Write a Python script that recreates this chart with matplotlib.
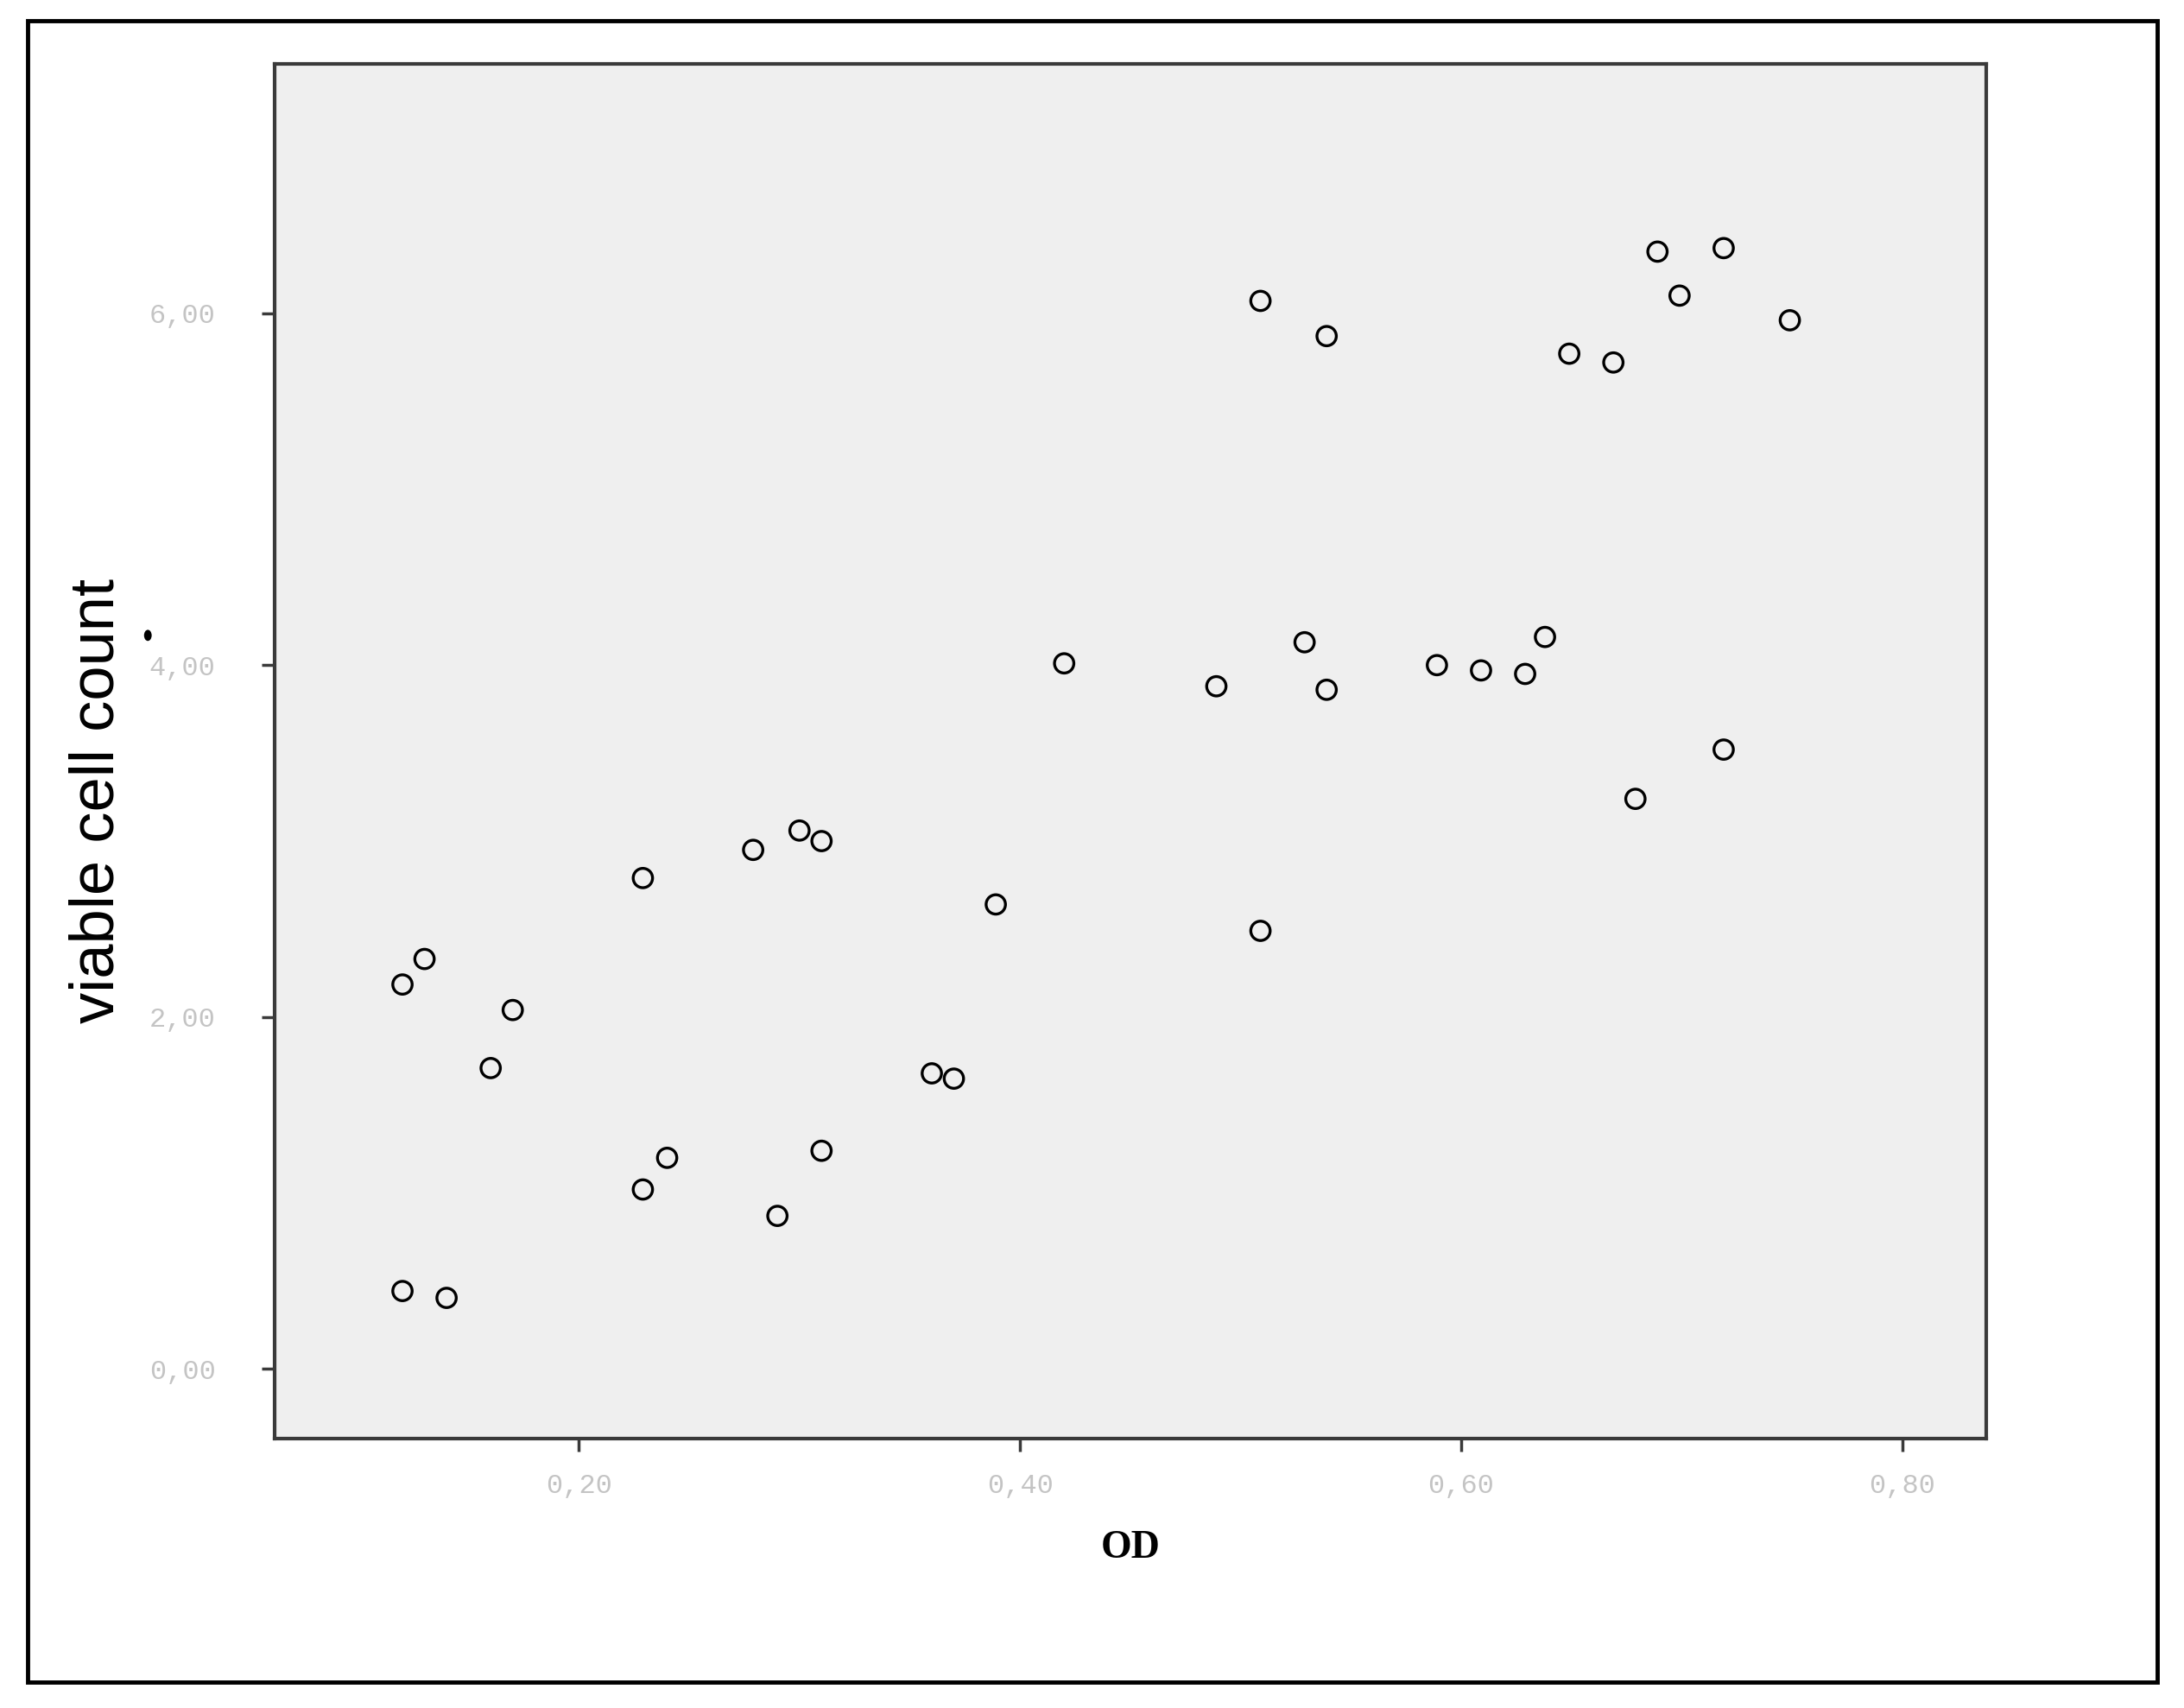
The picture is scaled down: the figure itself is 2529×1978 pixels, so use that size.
import matplotlib
matplotlib.use("Agg")
import matplotlib.pyplot as plt
from matplotlib.patches import Rectangle, Ellipse
from matplotlib.ticker import FuncFormatter

od = [0.120, 0.130, 0.120, 0.140, 0.160, 0.170, 0.229, 0.229, 0.240, 0.279,
      0.300, 0.310, 0.290, 0.310, 0.360, 0.370, 0.389, 0.420, 0.489, 0.509,
      0.509, 0.529, 0.539, 0.539, 0.589, 0.609, 0.629, 0.638, 0.649, 0.669,
      0.679, 0.689, 0.699, 0.719, 0.719, 0.749]
viable = [2.185, 2.33, 0.443, 0.404, 1.71, 2.04, 2.79, 1.02, 1.20, 2.95,
          3.06, 3.00, 0.87, 1.24, 1.68, 1.65, 2.64, 4.01, 3.88, 6.07,
          2.49, 4.13, 5.87, 3.86, 4.00, 3.97, 3.95, 4.16, 5.77, 5.72,
          3.24, 6.35, 6.10, 6.37, 3.52, 5.96]

xticks = [0.20, 0.40, 0.60, 0.80]
yticks = [0.0, 2.0, 4.0, 6.0]

fig = plt.figure(figsize=(25.29, 19.78), dpi=100)
fig.patch.set_facecolor("white")

# outer frame
fig.patches.append(Rectangle((0.0127, 0.0152), 0.975, 0.9727, transform=fig.transFigure,
                             fill=False, edgecolor="black", linewidth=3.5, zorder=0))

ax = fig.add_axes([0.1257, 0.1577, 0.7837, 0.8049])
ax.set_facecolor("#efefef")
ax.scatter(od, viable, s=260, facecolors="none", edgecolors="black", linewidths=2.4, zorder=3)

ax.set_xlim(0.062, 0.838)
ax.set_ylim(-0.396, 7.417)
ax.set_xticks(xticks)
ax.set_yticks(yticks)
fmt = FuncFormatter(lambda v, p: f"{v:.2f}".replace(".", ","))
ax.xaxis.set_major_formatter(fmt)
ax.yaxis.set_major_formatter(fmt)

for s in ax.spines.values():
    s.set_color("#3a3a3a")
    s.set_linewidth(3.0)
ax.tick_params(axis="both", direction="out", length=11, width=2.5, color="#3a3a3a",
               labelcolor="#c4c4c4", labelsize=23)
ax.tick_params(axis="x", pad=18)
ax.tick_params(axis="y", pad=38)
for lab in ax.get_xticklabels() + ax.get_yticklabels():
    lab.set_family("Liberation Mono")

ax.set_xlabel("OD", fontsize=33, fontweight="bold", family="Liberation Serif", labelpad=26)
fig.text(0.0447, 0.531, "viable cell count", rotation=90, fontsize=52,
         family="Liberation Sans", color="black", ha="center", va="center")

# small black mark next to the y label
fig.patches.append(Ellipse((0.0677, 0.628), 0.0035, 0.0065, transform=fig.transFigure,
                           facecolor="black", edgecolor="none"))

fig.savefig("out.png", dpi=100)
